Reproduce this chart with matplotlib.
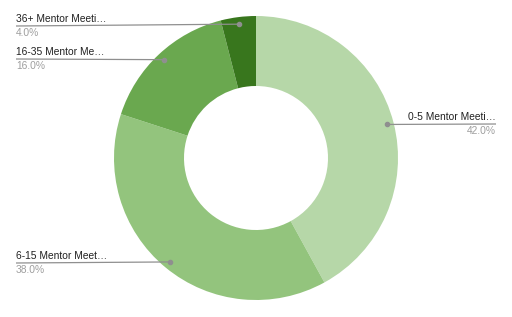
import numpy as np
import matplotlib.pyplot as plt

plt.rcParams['font.family'] = ['Liberation Sans', 'DejaVu Sans']

labels = ["0-5 Mentor Meeti…", "6-15 Mentor Meet…", "16-35 Mentor Me…", "36+ Mentor Meeti…"]
values = [42.0, 38.0, 16.0, 4.0]
colors = ["#b6d7a8", "#93c47d", "#6aa84f", "#38761d"]

W, H = 512, 317
fig = plt.figure(figsize=(W / 100, H / 100), dpi=100)
ax = fig.add_axes([0, 0, 1, 1])

cx, cy, R = 256, H - 158, 142
wedges, _ = ax.pie(values, colors=colors, startangle=90, counterclock=False,
                   center=(cx, cy), radius=R, frame=True,
                   wedgeprops=dict(width=R - 72, linewidth=0))
ax.set_xlim(0, W)
ax.set_ylim(0, H)
ax.set_aspect("equal")
ax.axis("off")

# label anchors (pixel y from top): (text x, line y, alignment)
anchors = [(496, 124, "right"), (16, 263, "left"), (16, 59, "left"), (16, 26, "left")]

total = sum(values)
cum = 0
for lab, v, (tx, ly, ha) in zip(labels, values, anchors):
    mid = (cum + v / 2) / total * 2 * np.pi
    cum += v
    dx = cx + 0.95 * R * np.sin(mid)
    dy = cy + 0.95 * R * np.cos(mid)
    y = H - ly
    ax.plot([dx, tx], [dy, y], color="#8f8f8f", lw=0.9, solid_capstyle="butt")
    ax.plot([dx], [dy], "o", color="#8f8f8f", ms=3)
    ax.text(tx, y + 2, lab, ha=ha, va="bottom", fontsize=7.4, color="#222222")
    ax.text(tx, y - 2, f"{v:.1f}%", ha=ha, va="top", fontsize=7.4, color="#9e9e9e")

fig.savefig("out.png", dpi=100)
